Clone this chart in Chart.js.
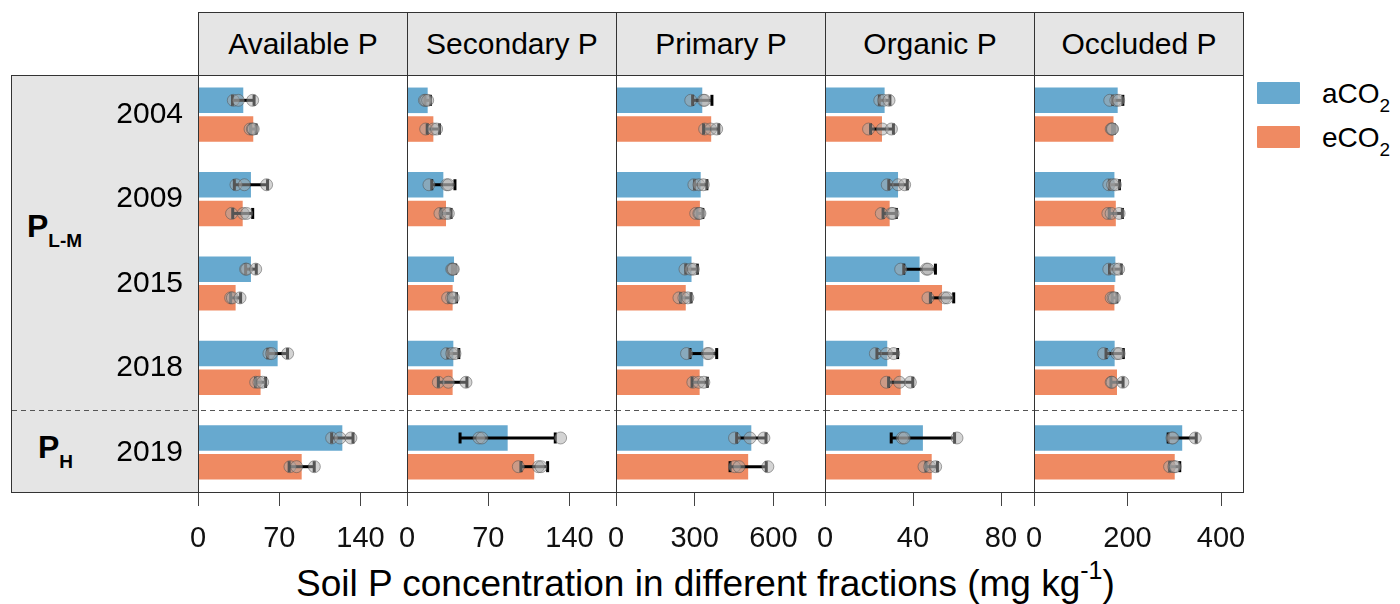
<!DOCTYPE html>
<html lang="en">
<head>
  <meta charset="UTF-8">
  <title>Soil P fractions</title>
  <script src="https://cdn.jsdelivr.net/npm/chart.js"></script>
  <style>
    body { margin: 0; background: #fff; font-family: "Liberation Sans", Arial, sans-serif; color: #000; }
    #fig { position: relative; width: 1400px; height: 604px; overflow: hidden; }
    #fig canvas { position: absolute; }
    .strip { position: absolute; background: #e5e5e5; border: 1px solid #333; box-sizing: border-box;
             display: flex; align-items: center; justify-content: center; font-size: 30px; line-height: 1; }
    .frame { position: absolute; border: 1px solid #333; box-sizing: border-box; pointer-events: none; z-index: 5; }
    .group { position: absolute; font-size: 32px; font-weight: bold; line-height: 1; white-space: nowrap; }
    .group sub { font-size: 19px; vertical-align: baseline; position: relative; top: 10px; }
    .key { position: absolute; width: 43px; height: 22px; border-radius: 1px; }
    .ltext { position: absolute; font-size: 28px; line-height: 1; white-space: nowrap; }
    .ltext sub { font-size: 19px; vertical-align: baseline; position: relative; top: 9px; }
    #xtitle { position: absolute; left: 296px; width: 800px; top: 565px; text-align: center;
              font-size: 37px; line-height: 1; white-space: nowrap; }
    #xtitle sup { font-size: 25px; vertical-align: baseline; position: relative; top: -17px; }
  </style>
</head>
<body>
<div id="fig">
  <div class="strip" style="left:11px; top:75px; width:188px; height:418px;"></div>
  <div class="group" style="left:27px; top:210px;">P<sub>L-M</sub></div>
  <div class="group" style="left:38px; top:431px;">P<sub>H</sub></div>

  <div class="key" style="left:1257px; top:82px; background:#67a9cf;"></div>
  <div class="ltext" style="left:1322px; top:80px;">aCO<sub>2</sub></div>
  <div class="key" style="left:1257px; top:126px; background:#ef8a62;"></div>
  <div class="ltext" style="left:1322px; top:124px;">eCO<sub>2</sub></div>

  <div id="xtitle">Soil P concentration in different fractions (mg kg<sup>-1</sup>)</div>
</div>

<script>
  // rows of the figure and the five P fractions (one panel each)
  const years = ['2004', '2009', '2015', '2018', '2019'];
  const fractions = ['Available P', 'Secondary P', 'Primary P', 'Organic P', 'Occluded P'];
  const xMax = [180, 180, 797, 95, 447];
  const xTicks = [[0, 70, 140], [0, 70, 140], [0, 300, 600], [0, 40, 80], [0, 200, 400]];

  // treatment means, one row per fraction, one column per year
  const meanA = [
    [39.0, 45.6, 45.6, 68.6, 124.3],
    [17.8, 31.3, 40.5, 39.9, 86.7],
    [329, 323, 288, 333, 516],
    [27.1, 33.2, 43.0, 28.3, 44.5],
    [179, 172, 174, 172.5, 317]
  ];
  const meanE = [
    [47.6, 38.5, 32.4, 53.9, 89.3],
    [22.7, 33.6, 39.3, 39.3, 109.6],
    [363, 320, 266, 319, 504],
    [25.9, 29.4, 53.2, 34.4, 48.5],
    [170, 175, 172, 177.5, 301]
  ];

  // half width of the error bars
  const errA = [
    [9.3, 14.3, 4.6, 8.5, 9.2],
    [2.4, 10.0, 1.4, 4.7, 41.0],
    [36.8, 23.5, 22.0, 51.0, 56.0],
    [2.4, 4.2, 7.2, 4.7, 14.4],
    [11.0, 10.7, 12.5, 18.5, 30.0]
  ];
  const errE = [
    [2.4, 8.6, 4.3, 4.3, 10.8],
    [5.3, 4.3, 3.3, 12.3, 11.5],
    [29.0, 11.0, 20.0, 29.0, 69.0],
    [5.2, 3.0, 5.3, 5.5, 2.6],
    [2.0, 14.0, 5.0, 13.0, 10.7]
  ];

  // individual replicates
  const ptsA = [
    [[30.4, 34.7, 47.1], [32.7, 39.9, 59.1], [41.0, 41.9, 49.7], [61.1, 63.4, 77.2], [115.1, 122.3, 131.7]],
    [[15.0, 16.1, 17.8], [18.9, 34.2, 35.6], [38.5, 39.3, 39.9], [34.2, 38.5, 41.3], [62.0, 64.5, 132.3]],
    [[285, 333, 338], [297, 316, 333], [263, 285, 295], [269, 348, 354], [452, 511, 564]],
    [[24.9, 26.7, 29.1], [28.3, 33.2, 36.2], [34.4, 46.1, 46.8], [22.9, 27.9, 31.2], [35.1, 36.0, 60.0]],
    [[162, 175, 181], [160, 168, 174], [160, 174, 181], [149, 177, 182], [295, 297, 345]]
  ];
  const ptsE = [
    [[44.8, 46.8, 47.6], [28.9, 39.0, 41.9], [28.1, 29.6, 36.2], [49.7, 52.5, 55.7], [79.2, 84.9, 100.2]],
    [[16.1, 22.7, 25.5], [28.4, 32.7, 35.6], [35.0, 38.5, 39.9], [27.0, 35.6, 50.8], [95.9, 113.1, 115.4]],
    [[338, 361, 384], [304, 316, 320], [240, 259, 274], [293, 316, 335], [452, 469, 579]],
    [[19.8, 26.1, 30.2], [25.6, 30.2, 30.9], [46.8, 54.4, 55.5], [27.9, 33.9, 38.8], [45.0, 47.6, 50.3]],
    [[165, 167, 168], [158, 165, 182], [165, 169, 172], [165, 167, 190], [290, 299, 302]]
  ];

  const FONT = '"Liberation Sans", Arial, sans-serif';
  const PANEL_X = [198, 407, 616, 825, 1034];
  const PANEL_W = 209;
  const PANEL_TOP = 75;
  const PANEL_H = 417;
  const STRIP_LEFT = 11;
  const AXIS_H = 100;
  const SIDE = 24;

  // error bars, replicate dots and the dashed divider above 2019
  const whiskers = {
    id: 'whiskers',
    afterDatasetsDraw(chart, args, opts) {
      const k = opts.panel;
      const { ctx, chartArea, scales: { x, y } } = chart;
      ctx.save();

      const yd = Math.round((y.getPixelForValue(3) + y.getPixelForValue(4)) / 2) + 0.5;
      ctx.strokeStyle = '#555';
      ctx.lineWidth = 1;
      ctx.setLineDash([5, 4]);
      ctx.beginPath();
      ctx.moveTo(k === 0 ? 1 : chartArea.left, yd);
      ctx.lineTo(chartArea.right, yd);
      ctx.stroke();
      ctx.setLineDash([]);

      [[meanA, errA, ptsA], [meanE, errE, ptsE]].forEach(([means, errs, pts], d) => {
        chart.getDatasetMeta(d).data.forEach((bar, i) => {
          const m = means[k][i], e = errs[k][i];
          const yc = bar.y;
          const lo = x.getPixelForValue(m - e);
          const hi = x.getPixelForValue(m + e);
          ctx.strokeStyle = '#000';
          ctx.lineWidth = 3;
          ctx.beginPath();
          ctx.moveTo(lo, yc);
          ctx.lineTo(hi, yc);
          ctx.stroke();
          ctx.fillStyle = '#000';
          ctx.fillRect(lo - 1.5, yc - 5.5, 3, 11);
          ctx.fillRect(hi - 1.5, yc - 5.5, 3, 11);

          pts[k][i].forEach(v => {
            ctx.beginPath();
            ctx.arc(x.getPixelForValue(v), yc, 6, 0, Math.PI * 2);
            ctx.fillStyle = 'rgba(170, 170, 170, 0.5)';
            ctx.fill();
            ctx.lineWidth = 1;
            ctx.strokeStyle = 'rgba(80, 80, 80, 0.5)';
            ctx.stroke();
          });
        });
      });
      ctx.restore();
    }
  };

  // the panel edges are fixed, so tick labels must not push the plot area inwards
  function noPadding(s) {
    s.paddingLeft = s.paddingRight = s.paddingTop = s.paddingBottom = 0;
  }

  const fig = document.getElementById('fig');

  fractions.forEach((name, k) => {
    const first = k === 0;
    const x0 = PANEL_X[k];

    const strip = document.createElement('div');
    strip.className = 'strip';
    strip.style.cssText = `left:${x0}px; top:12px; width:${PANEL_W + 1}px; height:64px;`;
    strip.textContent = name;
    fig.appendChild(strip);

    const left = first ? STRIP_LEFT : x0 - SIDE;
    const canvas = document.createElement('canvas');
    canvas.width = x0 + PANEL_W + SIDE - left;
    canvas.height = PANEL_H + AXIS_H;
    canvas.style.left = left + 'px';
    canvas.style.top = PANEL_TOP + 'px';
    fig.appendChild(canvas);

    const frame = document.createElement('div');
    frame.className = 'frame';
    frame.style.cssText = `left:${x0}px; top:${PANEL_TOP}px; width:${PANEL_W + 1}px; height:${PANEL_H + 1}px;`;
    fig.appendChild(frame);

    new Chart(canvas, {
      type: 'bar',
      data: {
        datasets: [
          { label: 'aCO2', data: meanA[k].map((v, i) => ({ x: v, y: i })), backgroundColor: '#67a9cf' },
          { label: 'eCO2', data: meanE[k].map((v, i) => ({ x: v, y: i })), backgroundColor: '#ef8a62' }
        ]
      },
      options: {
        indexAxis: 'y',
        responsive: false,
        animation: false,
        devicePixelRatio: 1,
        datasets: { bar: { categoryPercentage: 0.68, barPercentage: 0.89, borderWidth: 0 } },
        layout: { padding: { left: first ? 0 : SIDE, right: SIDE, top: 0, bottom: 0 } },
        plugins: {
          legend: { display: false },
          tooltip: { enabled: false },
          whiskers: { panel: k }
        },
        scales: {
          x: {
            type: 'linear',
            position: 'bottom',
            min: 0,
            max: xMax[k],
            afterBuildTicks: s => { s.ticks = xTicks[k].map(v => ({ value: v })); },
            afterFit: s => { s.height = AXIS_H; noPadding(s); },
            border: { display: false },
            grid: { drawOnChartArea: false, drawTicks: true, tickLength: 14, color: '#444', tickColor: '#444' },
            ticks: { font: { family: FONT, size: 29 }, color: '#111', padding: 16, maxRotation: 0, autoSkip: false }
          },
          y: {
            type: 'linear',
            reverse: true,
            offset: false,
            min: -0.47,
            max: 4.47,
            display: first,
            afterBuildTicks: s => { s.ticks = years.map((_, i) => ({ value: i })); },
            afterFit: s => { s.width = first ? PANEL_X[0] - STRIP_LEFT : 0; noPadding(s); },
            border: { display: false },
            grid: { display: false, drawTicks: false, offset: false },
            ticks: { callback: v => years[v], font: { family: FONT, size: 30 }, color: '#000', padding: 15 }
          }
        }
      },
      plugins: [whiskers]
    });
  });
</script>
</body>
</html>
